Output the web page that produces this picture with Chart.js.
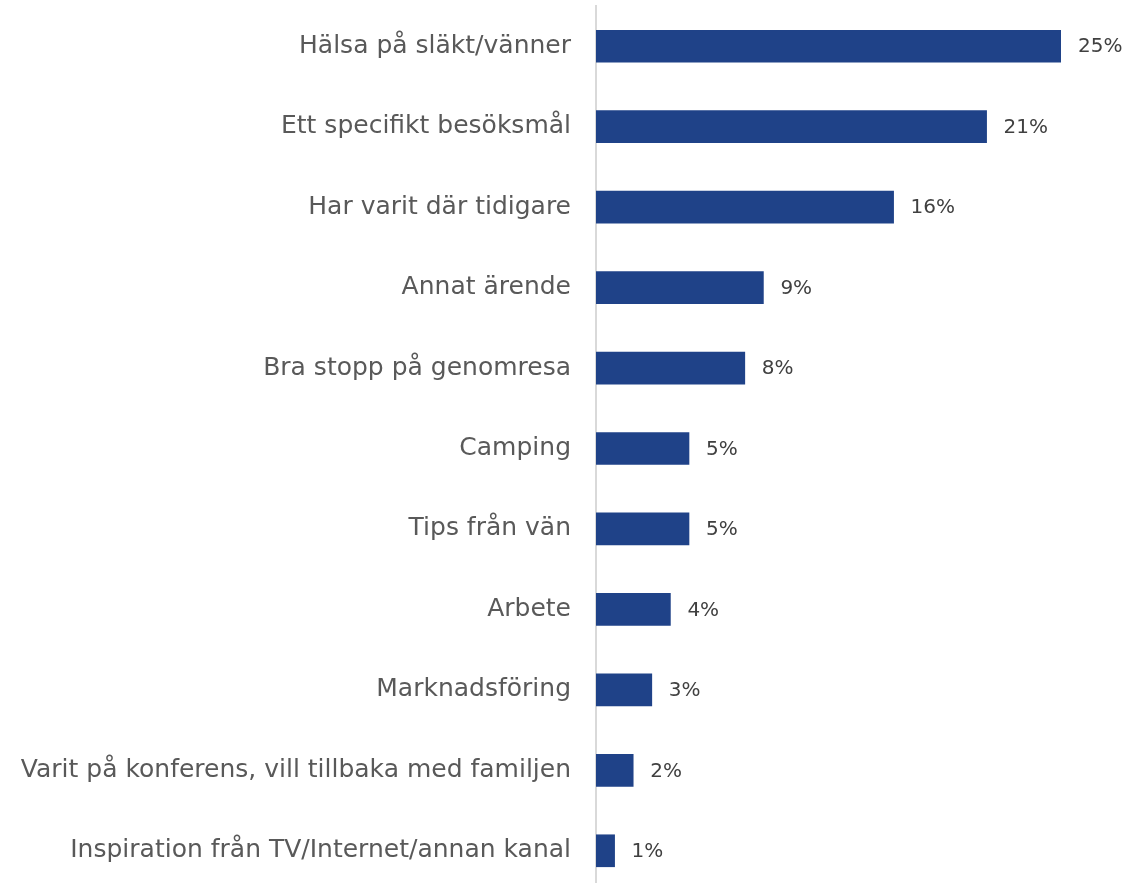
<!DOCTYPE html>
<html>
<head>
<meta charset="utf-8">
<script src="https://cdn.jsdelivr.net/npm/chart.js@4"></script>
<style>
  html, body { margin: 0; padding: 0; background: #ffffff; overflow: hidden; }
  #wrap { width: 1125px; height: 891px; position: relative; }
</style>
</head>
<body>
<div id="wrap"><canvas id="c"></canvas></div>
<script>
const categories = [
  "Hälsa på släkt/vänner",
  "Ett specifikt besöksmål",
  "Har varit där tidigare",
  "Annat ärende",
  "Bra stopp på genomresa",
  "Camping",
  "Tips från vän",
  "Arbete",
  "Marknadsföring",
  "Varit på konferens, vill tillbaka med familjen",
  "Inspiration från TV/Internet/annan kanal"
];
const values = [25, 21, 16, 9, 8, 5, 5, 4, 3, 2, 1];
const valueLabels = ["25%", "21%", "16%", "9%", "8%", "5%", "5%", "4%", "3%", "2%", "1%"];

const FONT = "'DejaVu Sans', sans-serif";

const dataLabelPlugin = {
  id: 'dataLabels',
  afterDatasetsDraw(chart) {
    const ctx = chart.ctx;
    const meta = chart.getDatasetMeta(0);
    ctx.save();
    ctx.font = "20px " + FONT;
    ctx.fillStyle = "#404040";
    ctx.textAlign = "left";
    ctx.textBaseline = "middle";
    meta.data.forEach((bar, i) => {
      ctx.fillText(valueLabels[i], bar.x + 17, bar.y + 1);
    });
    ctx.restore();
  }
};

new Chart(document.getElementById('c'), {
  type: 'bar',
  data: {
    labels: categories,
    datasets: [{
      data: values,
      backgroundColor: '#1F4288',
      borderWidth: 0,
      barThickness: 32
    }]
  },
  options: {
    indexAxis: 'y',
    responsive: true,
    maintainAspectRatio: false,
    animation: false,
    layout: { padding: { top: 6, right: 64, bottom: 0, left: 0 } },
    plugins: {
      legend: { display: false },
      tooltip: { enabled: false }
    },
    scales: {
      x: {
        min: 0, max: 25,
        display: false
      },
      y: {
        grid: { display: false, drawTicks: false },
        border: { display: true, color: '#D9D9D9', width: 2 },
        ticks: {
          padding: 25,
          color: '#595959',
          font: { family: FONT, size: 25 }
        },
        afterFit(scale) {
          scale.width = 596;
          scale.paddingTop = 0;
          scale.paddingBottom = 0;
        }
      }
    }
  },
  plugins: [dataLabelPlugin]
});
</script>
</body>
</html>
